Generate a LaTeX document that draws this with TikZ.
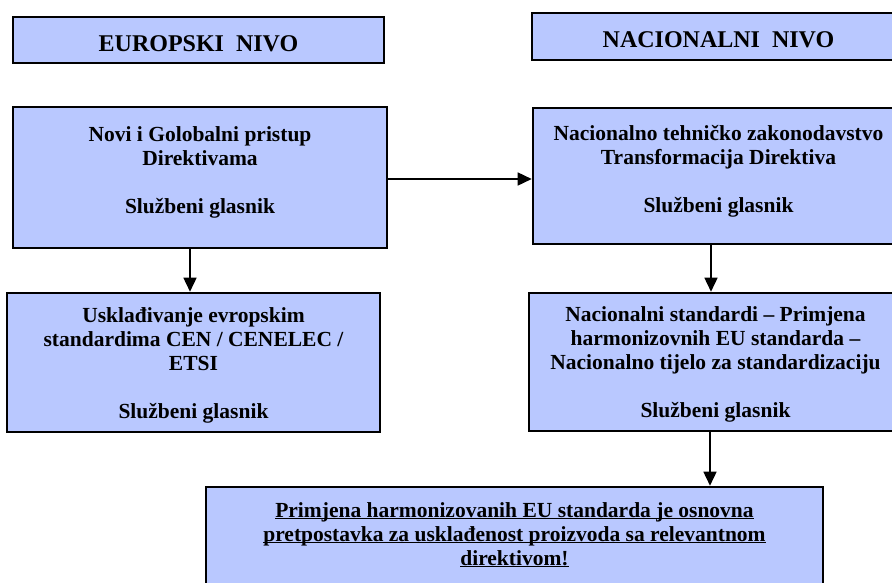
\documentclass[tikz,border=0pt]{standalone}
\usepackage{fontspec}
\setmainfont{Liberation Serif}
\usetikzlibrary{arrows.meta, calc}
\definecolor{nivoblue}{RGB}{185, 200, 255}

\begin{document}
\begin{tikzpicture}[x=1pt, y=-1pt, >={Triangle[length=14pt, width=13pt]},
    nivo/.style={draw=black, line width=2.6pt, fill=nivoblue, inner sep=2pt,
        align=center, font=\bfseries\fontsize{21.5}{24}\selectfont},
    naslov/.style={nivo, font=\bfseries\fontsize{24}{28}\selectfont,
        text height=22pt, text depth=0pt},
    veza/.style={->, line width=1.6pt}]

\useasboundingbox (0,0) rectangle (892,582);

% === Naslovi ===
\node[naslov, minimum width=371pt, minimum height=46pt] (eu) at (198.5,40) {EUROPSKI\ \ NIVO};
\node[naslov, minimum width=373pt, minimum height=47pt] (nac) at (718.5,36.5) {NACIONALNI\ \ NIVO};

% === Evropski nivo ===
\node[nivo, minimum width=374pt, minimum height=141pt] (novi) at (200,177.5)
    {Novi i Golobalni pristup\\Direktivama\\[24pt]Službeni glasnik\rule[-15pt]{0pt}{0pt}};
\node[nivo, minimum width=373pt, minimum height=139pt] (uskl) at (193.5,362.5)
    {\rule{0pt}{20pt}Usklađivanje evropskim\\standardima CEN / CENELEC /\\ETSI\\[24pt]Službeni glasnik};

% === Nacionalni nivo ===
\node[nivo, minimum width=371pt, minimum height=136pt] (nactech) at (718.5,176)
    {Nacionalno tehničko zakonodavstvo\\Transformacija Direktiva\\[24pt]Službeni glasnik\rule[-15pt]{0pt}{0pt}};
\node[nivo, minimum width=373pt, minimum height=138pt] (nacstd) at (715.5,362)
    {\rule{0pt}{20pt}Nacionalni standardi -- Primjena\\harmonizovnih EU standarda --\\Nacionalno tijelo za standardizaciju\\[24pt]Službeni glasnik};

% === Zakljucak ===
\node[nivo, minimum width=617pt, minimum height=98pt] (final) at (514.5,536)
    {\rule{0pt}{12pt}\underline{\smash{Primjena harmonizovanih EU standarda je osnovna}}\\
     \underline{\smash{pretpostavka za usklađenost proizvoda sa relevantnom}}\\
     \underline{\smash{direktivom!}}};

% === Veze ===
\draw[veza] (novi.east |- 0,179) -- (nactech.west |- 0,179);
\draw[veza] (novi.south -| 190,0) -- (uskl.north -| 190,0);
\draw[veza] (nactech.south -| 711,0) -- (nacstd.north -| 711,0);
\draw[veza] (nacstd.south -| 710,0) -- (final.north -| 710,0);

\end{tikzpicture}
\end{document}
